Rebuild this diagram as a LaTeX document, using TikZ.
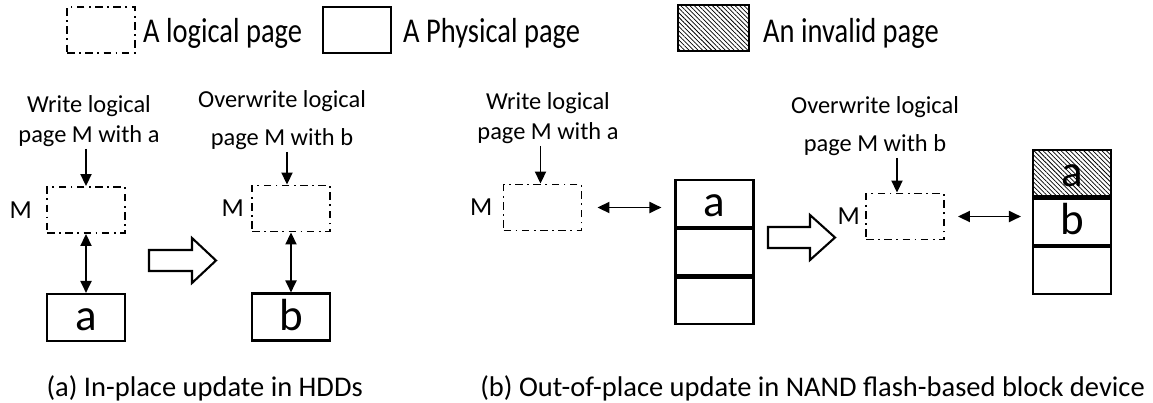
\documentclass[tikz,border=0pt]{standalone}
\usepackage{fontspec}
\setmainfont{Carlito}
\usetikzlibrary{arrows.meta,patterns.meta}

\newcommand{\fsz}[2]{\fontsize{#1}{#2}\selectfont}
\newcommand{\tallkey}[1]{\scalebox{1}[1.22]{#1}}

\tikzset{
  lpage/.style={draw, line width=1.9pt,
    dash pattern=on 7.5pt off 4.5pt on 1.8pt off 4.5pt,
    minimum width=78pt, minimum height=46pt, inner sep=0pt},
  ppage/.style={draw, line width=2.1pt, minimum width=78pt,
    minimum height=47pt, inner sep=0pt, font=\fsz{45}{50},
    text height=26pt, text depth=0pt},
  cell/.style={ppage, minimum height=46.5pt},
  invalid/.style={pattern={Lines[angle=-45,distance=3.2pt,line width=0.75pt]}},
  legendtxt/.style={inner sep=0pt, anchor=base west, font=\fsz{28.5}{34}},
  optxt/.style={inner sep=0pt, align=center, font=\fsz{24.4}{30}},
  optxtwide/.style={optxt, font=\fsz{24.4}{38}},
  mtxt/.style={inner sep=0pt, font=\fsz{26}{30}},
  captxt/.style={inner sep=0pt, font=\fsz{28.5}{34}},
  wr/.style={line width=1.9pt, -{Triangle[length=12pt,width=11pt]}},
  map/.style={line width=1.9pt, {Triangle[length=12pt,width=11pt]}-{Triangle[length=12pt,width=11pt]}},
  hollow/.style={draw, line width=2.1pt, fill=white},
}

\begin{document}
\begin{tikzpicture}[x=1pt, y=-1pt]
\useasboundingbox (0,0) rectangle (1153,402);

% legend
\node[lpage, minimum width=68pt] (kl) at (101,30) {};
\node[legendtxt] (kltxt) at (143,42) {\tallkey{A logical page}};
\node[ppage, minimum width=68pt, minimum height=46pt] (kp) at (357,30) {};
\node[legendtxt] (kptxt) at (403,42) {\tallkey{A Physical page}};
\node[ppage, invalid, minimum width=71pt, minimum height=46pt] (ki) at (713.5,28) {};
\node[legendtxt] (kitxt) at (763,42) {\tallkey{An invalid page}};

% (a) in-place update
\node[optxt] (w1) at (89,121) {Write logical\\page M with a};
\node[lpage] (L1) at (86,210) {};
\node[mtxt, anchor=east] (m1) at (L1.west) [xshift=-14pt] {M};
\node[ppage] (A1) at (86,317.5) {a};
\draw[wr] (w1.south -| L1.north) ++(0,2) -- (L1.north);
\draw[map] (L1.south) -- (A1.north);

\draw[hollow] (149,250) -- (192,250) -- (192,238) -- (216,260.5)
  -- (192,283) -- (192,271) -- (149,271) -- cycle;

\node[optxtwide] (w2) at (282,120) {Overwrite logical\\page M with b};
\node[lpage] (L2) at (291,208.5) {};
\node[mtxt, anchor=east] (m2) at (L2.west) [xshift=-7pt] {M};
\node[ppage] (B2) at (291,317) {b};
\draw[wr] (w2.south -| L2.north) ++(-4,2) -- ([xshift=-4pt]L2.north);
\draw[map] (L2.south) -- (B2.north);

\node[captxt, anchor=base east] (capa) at (363,396) {(a) In-place update in HDDs};

% (b) out-of-place update
\node[optxt] (w3) at (548,118) {Write logical\\page M with a};
\node[lpage] (L3) at (542.5,207.5) {};
\node[mtxt, anchor=east] (m3) at (L3.west) [xshift=-10pt] {M};
\node[cell] (S1a) at (714.5,203.5) {a};
\node[cell, anchor=north] (S1b) at (S1a.south) {};
\node[cell, anchor=north] (S1c) at (S1b.south) {};
\draw[wr] (w3.south -| L3.north) ++(-2,2) -- ([xshift=-2pt]L3.north);
\draw[map, shorten <=15pt, shorten >=13pt] (L3.east) -- (L3.east -| S1a.west);

\draw[hollow] (768,227) -- (810,227) -- (810,215) -- (835,237.5)
  -- (810,260) -- (810,248) -- (768,248) -- cycle;

\node[optxtwide] (w4) at (875,126) {Overwrite logical\\page M with b};
\node[lpage] (L4) at (905,216.5) {};
\node[mtxt, anchor=east] (m4) at (L4.west) [xshift=-5pt] {M};
\node[cell, invalid] (S2a) at (1072,173.25) {a};
\node[cell, anchor=north] (S2b) at (S2a.south) {b};
\node[cell, anchor=north] (S2c) at (S2b.south) {};
\draw[wr] (w4.south -| L4.north) ++(-8,2) -- ([xshift=-8pt]L4.north);
\draw[map, shorten <=13pt, shorten >=11pt] (L4.east) -- (L4.east -| S2a.west);

\node[captxt, anchor=base east] (capb) at (1145,396) {(b) Out-of-place update in NAND flash-based block device};
\end{tikzpicture}
\end{document}
